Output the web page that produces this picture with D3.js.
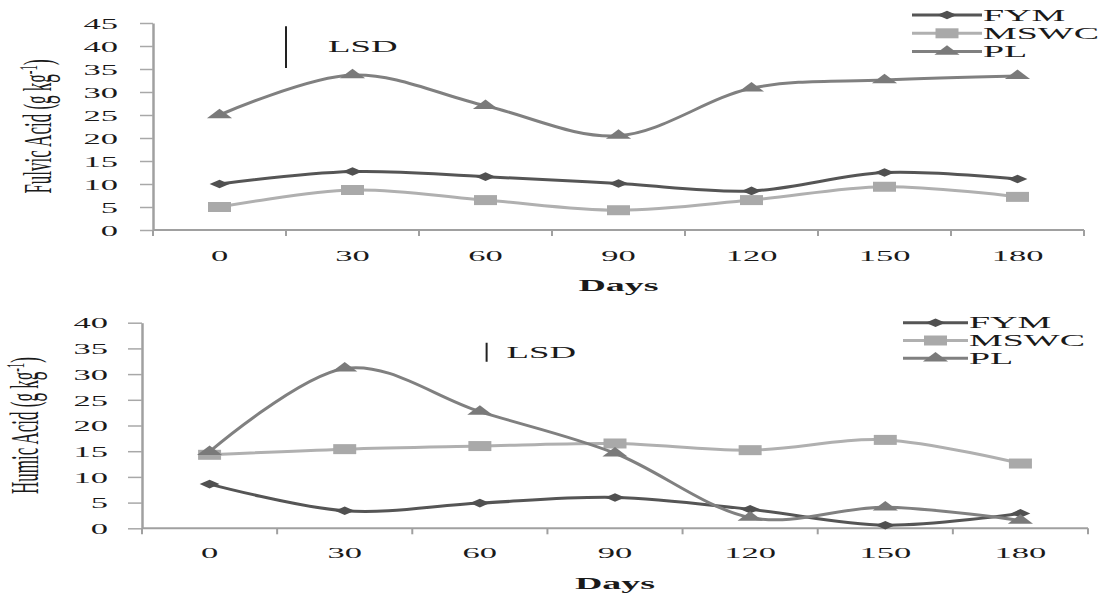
<!DOCTYPE html>
<html>
<head>
<meta charset="utf-8">
<script src="https://cdn.jsdelivr.net/npm/d3@7"></script>
<style>
  body { margin: 0; background: #fff; }
  svg text { font-family: "Liberation Serif", "Times New Roman", serif; fill: #1a1a1a; }
</style>
</head>
<body>
<svg id="chart" width="1105" height="593"></svg>
<script>
// data
const days = ["0", "30", "60", "90", "120", "150", "180"];
const seriesNames = ["FYM", "MSWC", "PL"];

const fulvicFYM = [10.0, 12.7, 11.6, 10.1, 8.5, 12.5, 11.1];
const fulvicMSWC = [5.0, 8.7, 6.5, 4.3, 6.5, 9.4, 7.2];
const fulvicPL = [25.0, 33.7, 27.0, 20.5, 30.8, 32.6, 33.5];
const fulvicTicks = [0, 5, 10, 15, 20, 25, 30, 35, 40, 45];
const fulvicLSD = 9.1;

const humicFYM = [8.6, 3.4, 4.9, 6.0, 3.7, 0.6, 2.9];
const humicMSWC = [14.3, 15.4, 16.0, 16.5, 15.2, 17.2, 12.6];
const humicPL = [14.9, 31.1, 22.7, 14.6, 2.1, 4.1, 1.5];
const humicTicks = [0, 5, 10, 15, 20, 25, 30, 35, 40];
const humicLSD = 3.7;

// the original picture is stretched sideways, so text and markers are too
const K = 2.3;

const styles = [
    { line: "#555555", marker: "#505050", symbol: d3.symbolDiamond2, size: 47 },
    { line: "#b0b0b0", marker: "#a9a9a9", symbol: d3.symbolSquare, size: 100 },
    { line: "#808080", marker: "#7a7a7a", symbol: d3.symbolTriangle, size: 52 }
];

const svg = d3.select("#chart");

function label(g, x, y, txt, anchor, size, weight) {
    return g.append("text")
        .attr("transform", `translate(${x},${y}) scale(${K},1)`)
        .attr("text-anchor", anchor)
        .style("font-size", size + "px")
        .style("font-weight", weight || "normal")
        .text(txt);
}

function drawPanel(p) {
    const x = d3.scaleBand().domain(days).range([p.left, p.right]);
    const y = d3.scaleLinear().domain([0, p.max]).range([p.bottom, p.top]);
    const cx = d => x(d) + x.bandwidth() / 2;
    const g = svg.append("g");

    // y axis
    const yAxis = g.append("g")
        .attr("transform", `translate(${p.left},0)`)
        .call(d3.axisLeft(y).tickValues(p.ticks).tickSize(p.tickLen).tickSizeOuter(0));
    yAxis.select(".domain").attr("stroke", "#a0a0a0").attr("stroke-width", 2.5);
    yAxis.selectAll(".tick line").attr("stroke", "#a8a8a8").attr("stroke-width", 1.5);
    yAxis.selectAll(".tick text")
        .attr("x", -p.labelGap / K)
        .attr("dy", "0.35em")
        .attr("transform", `scale(${K},1)`)
        .style("font-size", "15px");

    // x axis: ticks sit on band edges, labels in the middle
    g.append("line")
        .attr("x1", p.left).attr("x2", p.right)
        .attr("y1", y(0)).attr("y2", y(0))
        .attr("stroke", "#a0a0a0").attr("stroke-width", 2);
    g.selectAll("line.xtick")
        .data(d3.range(days.length + 1))
        .join("line")
        .attr("class", "xtick")
        .attr("x1", i => x.range()[0] + i * x.step())
        .attr("x2", i => x.range()[0] + i * x.step())
        .attr("y1", y(0)).attr("y2", y(0) + 6)
        .attr("stroke", "#a0a0a0").attr("stroke-width", 2);
    days.forEach(d => label(g, cx(d), y(0) + p.xLabelDy, d, "middle", 15));

    label(g, (p.left + p.right) / 2, p.daysY, "Days", "middle", 16.5, "bold");

    // y axis title
    const yt = g.append("text")
        .attr("transform", `translate(${p.titleX},${(p.top + p.bottom) / 2}) scale(${K},1) rotate(-90)`)
        .attr("text-anchor", "middle")
        .style("font-size", "17px");
    yt.append("tspan").text(p.title + " (g kg");
    yt.append("tspan").attr("dy", -6).style("font-size", "11px").text("-1");
    yt.append("tspan").attr("dy", 6).text(")");

    // series
    const line = d3.line()
        .x((d, i) => cx(days[i]))
        .y(d => y(d))
        .curve(d3.curveCardinal.tension(0));

    p.series.forEach((vals, s) => {
        const st = styles[s];
        g.append("path")
            .datum(vals)
            .attr("d", line)
            .attr("fill", "none")
            .attr("stroke", st.line)
            .attr("stroke-width", 3);
        g.selectAll(null)
            .data(vals)
            .join("path")
            .attr("transform", (d, i) => `translate(${cx(days[i])},${y(d)}) scale(${K},1)`)
            .attr("d", d3.symbol(st.symbol, st.size)())
            .attr("fill", st.marker);
    });

    // LSD bar
    const lx = cx(days[0]) + p.lsdAt * x.step();
    g.append("line")
        .attr("x1", lx).attr("x2", lx)
        .attr("y1", y(p.lsdTop)).attr("y2", y(p.lsdTop - p.lsd))
        .attr("stroke", "#222").attr("stroke-width", 2);
    label(g, lx + p.lsdTextDx, p.lsdTextY, "LSD", "start", 16);

    // legend
    seriesNames.forEach((name, s) => {
        const st = styles[s];
        const ly = p.legY + s * p.legStep;
        g.append("line")
            .attr("x1", p.legX1).attr("x2", p.legX2)
            .attr("y1", ly).attr("y2", ly)
            .attr("stroke", st.line).attr("stroke-width", 3);
        g.append("path")
            .attr("transform", `translate(${(p.legX1 + p.legX2) / 2},${ly}) scale(${K},1)`)
            .attr("d", d3.symbol(st.symbol, st.size)())
            .attr("fill", st.marker);
        label(g, p.legX2 + 1, ly + 5.5, name, "start", 16.5);
    });
}

drawPanel({
    left: 153, right: 1084, top: 23, bottom: 230, max: 45,
    ticks: fulvicTicks, tickLen: 13, labelGap: 35, xLabelDy: 31, daysY: 291,
    title: "Fulvic Acid", titleX: 51,
    series: [fulvicFYM, fulvicMSWC, fulvicPL],
    lsd: fulvicLSD, lsdTop: 44.3, lsdAt: 0.5, lsdTextDx: 42, lsdTextY: 52,
    legX1: 912, legX2: 982, legY: 15, legStep: 18.3
});

drawPanel({
    left: 142, right: 1088, top: 322.7, bottom: 528.3, max: 40,
    ticks: humicTicks, tickLen: 14, labelGap: 34, xLabelDy: 30, daysY: 589,
    title: "Humic Acid", titleX: 38,
    series: [humicFYM, humicMSWC, humicPL],
    lsd: humicLSD, lsdTop: 36.1, lsdAt: 2.05, lsdTextDx: 20, lsdTextY: 358,
    legX1: 903, legX2: 968, legY: 322.7, legStep: 17.8
});
</script>
</body>
</html>
